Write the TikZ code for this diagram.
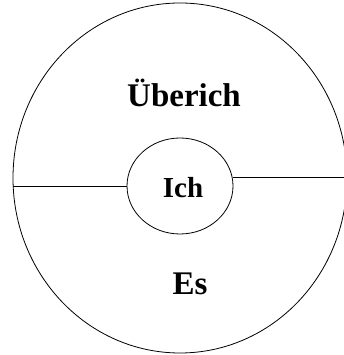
\documentclass[tikz,border=0pt]{standalone}
\usepackage{fontspec}
\setmainfont{Liberation Serif}
\usetikzlibrary{shapes.geometric}
\tikzset{
  part/.style={draw=black, line width=.8pt, ellipse, inner sep=0pt},
  label/.style={font=\bfseries\fontsize{33}{36}\selectfont, anchor=base},
  split/.style={draw=black, line width=.8pt}
}
\begin{document}
\begin{tikzpicture}[x=1pt,y=1pt]
\useasboundingbox (0,0) rectangle (343,355);

% outer psyche and inner ego
\node[part, minimum width=334pt, minimum height=350pt] (psyche) at (180,177) {};
\node[part, minimum width=106pt, minimum height=96pt] (ich) at (180,169) {};

% dividing lines
\draw[split] (ich.west -| psyche.west) -- (ich.west);
\draw[split] (ich.9) -- (ich.9 -| psyche.east);

% labels
\node[label] (ueberich) at (184,248) {Überich};
\node[label, font=\bfseries\fontsize{29}{32}\selectfont] (ichtext) at (183,157) {Ich};
\node[label] (es) at (190,60) {Es};

\end{tikzpicture}
\end{document}
